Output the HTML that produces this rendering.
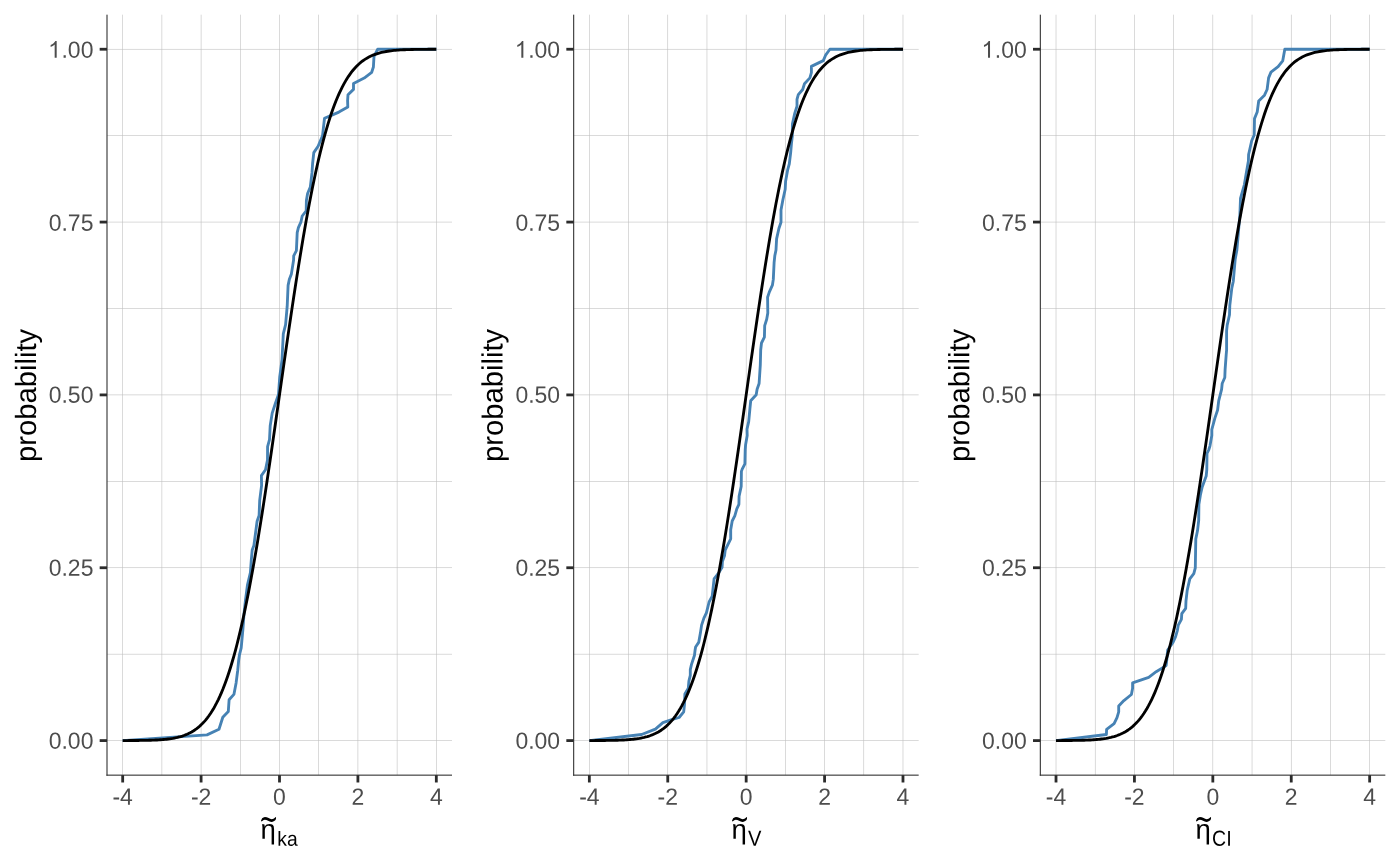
<!DOCTYPE html>
<html><head><meta charset="utf-8"><title>ECDF</title>
<style>
html,body{margin:0;padding:0;background:#fff;}
svg{display:block;will-change:transform;}
text{font-family:"Liberation Sans",sans-serif;}
</style></head><body>
<svg width="1400" height="866" viewBox="0 0 1400 866">
<rect x="0" y="0" width="1400" height="866" fill="#ffffff"/>
<g>
<rect x="107.00" y="740.298" width="345.00" height="0.57" fill="#bebebe"/>
<rect x="107.00" y="653.880" width="345.00" height="0.57" fill="#bebebe"/>
<rect x="107.00" y="567.461" width="345.00" height="0.57" fill="#bebebe"/>
<rect x="107.00" y="481.043" width="345.00" height="0.57" fill="#bebebe"/>
<rect x="107.00" y="394.625" width="345.00" height="0.57" fill="#bebebe"/>
<rect x="107.00" y="308.207" width="345.00" height="0.57" fill="#bebebe"/>
<rect x="107.00" y="221.789" width="345.00" height="0.57" fill="#bebebe"/>
<rect x="107.00" y="135.370" width="345.00" height="0.57" fill="#bebebe"/>
<rect x="107.00" y="48.952" width="345.00" height="0.57" fill="#bebebe"/>
<rect x="122.397" y="14.67" width="0.57" height="760.48" fill="#bebebe"/>
<rect x="161.601" y="14.67" width="0.57" height="760.48" fill="#bebebe"/>
<rect x="200.806" y="14.67" width="0.57" height="760.48" fill="#bebebe"/>
<rect x="240.010" y="14.67" width="0.57" height="760.48" fill="#bebebe"/>
<rect x="279.215" y="14.67" width="0.57" height="760.48" fill="#bebebe"/>
<rect x="318.420" y="14.67" width="0.57" height="760.48" fill="#bebebe"/>
<rect x="357.624" y="14.67" width="0.57" height="760.48" fill="#bebebe"/>
<rect x="396.829" y="14.67" width="0.57" height="760.48" fill="#bebebe"/>
<rect x="436.033" y="14.67" width="0.57" height="760.48" fill="#bebebe"/>
<polyline points="122.68,740.58 207.00,734.90 219.00,729.30 222.80,717.30 228.30,711.60 229.10,699.80 233.90,694.40 236.10,682.90 237.70,670.50 238.70,660.00 239.40,655.20 241.20,647.80 242.90,629.30 244.00,614.00 245.40,601.00 247.50,584.80 250.40,572.70 251.30,560.00 252.20,550.10 253.90,545.50 257.10,521.20 259.10,515.40 259.70,500.40 261.60,485.40 261.40,475.60 265.50,469.80 267.50,460.00 267.60,446.60 269.50,439.70 270.20,425.80 272.20,413.10 275.60,402.70 278.50,394.60 279.70,377.30 282.00,360.00 283.30,333.90 285.60,324.70 287.20,306.20 288.10,285.40 289.30,279.60 291.40,273.90 293.60,260.00 293.70,255.80 296.40,250.60 297.20,232.70 298.40,227.60 301.00,221.80 302.20,216.00 306.20,210.80 306.40,200.40 307.60,193.50 310.30,187.10 312.00,172.70 312.60,163.50 313.80,152.60 318.10,146.20 322.50,135.80 324.50,118.30 330.80,115.60 338.90,112.10 347.80,107.00 347.60,100.60 348.00,94.70 353.50,89.40 353.50,83.50 364.20,78.10 371.70,72.30 373.40,67.00 374.00,56.40 377.70,49.24 436.32,49.24" fill="none" stroke="#4682b4" stroke-width="2.85" stroke-linejoin="round" stroke-linecap="butt"/>
<polyline points="122.68,740.56 124.25,740.56 125.82,740.55 127.39,740.55 128.95,740.54 130.52,740.53 132.09,740.52 133.66,740.51 135.23,740.50 136.80,740.49 138.36,740.47 139.93,740.45 141.50,740.43 143.07,740.41 144.64,740.38 146.20,740.35 147.77,740.31 149.34,740.27 150.91,740.22 152.48,740.17 154.05,740.11 155.61,740.04 157.18,739.96 158.75,739.87 160.32,739.76 161.89,739.65 163.45,739.52 165.02,739.37 166.59,739.21 168.16,739.02 169.73,738.82 171.30,738.58 172.86,738.33 174.43,738.04 176.00,737.72 177.57,737.36 179.14,736.96 180.70,736.53 182.27,736.04 183.84,735.51 185.41,734.92 186.98,734.27 188.55,733.55 190.11,732.77 191.68,731.91 193.25,730.97 194.82,729.95 196.39,728.83 197.95,727.61 199.52,726.29 201.09,724.85 202.66,723.30 204.23,721.62 205.80,719.81 207.36,717.85 208.93,715.74 210.50,713.48 212.07,711.05 213.64,708.45 215.20,705.67 216.77,702.70 218.34,699.53 219.91,696.16 221.48,692.58 223.05,688.78 224.61,684.75 226.18,680.49 227.75,676.00 229.32,671.26 230.89,666.27 232.45,661.03 234.02,655.53 235.59,649.77 237.16,643.75 238.73,637.45 240.30,630.90 241.86,624.07 243.43,616.98 245.00,609.62 246.57,602.00 248.14,594.12 249.70,585.98 251.27,577.59 252.84,568.95 254.41,560.08 255.98,550.98 257.55,541.66 259.11,532.12 260.68,522.38 262.25,512.46 263.82,502.36 265.39,492.10 266.95,481.68 268.52,471.14 270.09,460.47 271.66,449.71 273.23,438.85 274.80,427.93 276.36,416.95 277.93,405.94 279.50,394.91 281.07,383.88 282.64,372.87 284.20,361.89 285.77,350.97 287.34,340.11 288.91,329.35 290.48,318.68 292.05,308.14 293.61,297.72 295.18,287.46 296.75,277.36 298.32,267.44 299.89,257.70 301.45,248.16 303.02,238.84 304.59,229.74 306.16,220.87 307.73,212.23 309.30,203.84 310.86,195.70 312.43,187.82 314.00,180.20 315.57,172.84 317.14,165.75 318.70,158.92 320.27,152.37 321.84,146.07 323.41,140.05 324.98,134.29 326.55,128.79 328.11,123.55 329.68,118.56 331.25,113.82 332.82,109.33 334.39,105.07 335.95,101.04 337.52,97.24 339.09,93.66 340.66,90.29 342.23,87.12 343.80,84.15 345.36,81.37 346.93,78.77 348.50,76.34 350.07,74.08 351.64,71.97 353.20,70.01 354.77,68.20 356.34,66.52 357.91,64.97 359.48,63.53 361.05,62.21 362.61,60.99 364.18,59.87 365.75,58.85 367.32,57.91 368.89,57.05 370.45,56.27 372.02,55.55 373.59,54.90 375.16,54.31 376.73,53.78 378.30,53.29 379.86,52.86 381.43,52.46 383.00,52.10 384.57,51.78 386.14,51.49 387.70,51.24 389.27,51.00 390.84,50.80 392.41,50.61 393.98,50.45 395.55,50.30 397.11,50.17 398.68,50.06 400.25,49.95 401.82,49.86 403.39,49.78 404.95,49.71 406.52,49.65 408.09,49.60 409.66,49.55 411.23,49.51 412.80,49.47 414.36,49.44 415.93,49.41 417.50,49.39 419.07,49.37 420.64,49.35 422.20,49.33 423.77,49.32 425.34,49.31 426.91,49.30 428.48,49.29 430.05,49.28 431.61,49.27 433.18,49.27 434.75,49.26 436.32,49.26" fill="none" stroke="#000000" stroke-width="2.85" stroke-linejoin="round" stroke-linecap="butt"/>
<rect x="106.450" y="14.67" width="1.1" height="761.030" fill="#333333"/>
<rect x="106.450" y="774.600" width="345.550" height="1.1" fill="#333333"/>
<rect x="121.282" y="775.15" width="2.8" height="7.33" fill="#2b2b2b"/>
<rect x="199.691" y="775.15" width="2.8" height="7.33" fill="#2b2b2b"/>
<rect x="278.100" y="775.15" width="2.8" height="7.33" fill="#2b2b2b"/>
<rect x="356.509" y="775.15" width="2.8" height="7.33" fill="#2b2b2b"/>
<rect x="434.918" y="775.15" width="2.8" height="7.33" fill="#2b2b2b"/>
<rect x="99.670" y="739.183" width="7.33" height="2.8" fill="#2b2b2b"/>
<rect x="99.670" y="566.346" width="7.33" height="2.8" fill="#2b2b2b"/>
<rect x="99.670" y="393.510" width="7.33" height="2.8" fill="#2b2b2b"/>
<rect x="99.670" y="220.674" width="7.33" height="2.8" fill="#2b2b2b"/>
<rect x="99.670" y="47.837" width="7.33" height="2.8" fill="#2b2b2b"/>
<text transform="translate(122.68,804.75) rotate(0.03) scale(0.978,1)" font-size="23.47" fill="#4d4d4d" text-anchor="middle">-4</text>
<text transform="translate(201.09,804.75) rotate(0.03) scale(0.978,1)" font-size="23.47" fill="#4d4d4d" text-anchor="middle">-2</text>
<text transform="translate(279.50,804.75) rotate(0.03) scale(0.978,1)" font-size="23.47" fill="#4d4d4d" text-anchor="middle">0</text>
<text transform="translate(357.91,804.75) rotate(0.03) scale(0.978,1)" font-size="23.47" fill="#4d4d4d" text-anchor="middle">2</text>
<text transform="translate(436.32,804.75) rotate(0.03) scale(0.978,1)" font-size="23.47" fill="#4d4d4d" text-anchor="middle">4</text>
<text transform="translate(93.40,748.75) rotate(0.03) scale(0.978,1)" font-size="23.47" fill="#4d4d4d" text-anchor="end">0.00</text>
<text transform="translate(93.40,575.75) rotate(0.03) scale(0.978,1)" font-size="23.47" fill="#4d4d4d" text-anchor="end">0.25</text>
<text transform="translate(93.40,402.75) rotate(0.03) scale(0.978,1)" font-size="23.47" fill="#4d4d4d" text-anchor="end">0.50</text>
<text transform="translate(93.40,230.75) rotate(0.03) scale(0.978,1)" font-size="23.47" fill="#4d4d4d" text-anchor="end">0.75</text>
<text transform="translate(93.40,57.75) rotate(0.03) scale(0.978,1)" font-size="23.47" fill="#4d4d4d" text-anchor="end">.00</text>
<path transform="translate(48.13,57.75) scale(0.011208,-0.011460)" d="M763 0H583V1147Q518 1085 412.5 1023T223 930V1104Q373 1174.5 485.5 1275T645 1470H763Z" fill="#4d4d4d"/>
<text transform="translate(35.95,395.46) rotate(-90.03)" font-size="29.25" fill="#000" text-anchor="middle">probability</text>
<text transform="translate(260.4,838.8) rotate(0.03)" font-size="27.6" fill="#000">&#951;</text>
<text transform="translate(277.3,845.7) rotate(0.03) scale(0.94,1)" font-size="20.5" fill="#000">ka</text>
<polygon transform="translate(261.0,817)" points="0.20,3.17 1.13,1.31 2.43,0.39 3.91,-0.08 5.77,0.29 7.63,1.04 9.11,1.78 10.78,2.15 12.46,1.78 13.57,0.94 14.50,0.01 15.06,0.57 14.96,2.06 14.31,3.17 13.20,4.10 11.71,4.75 10.41,4.94 8.74,4.38 7.07,3.64 5.40,2.99 3.73,2.80 2.24,3.17 1.31,3.91 0.39,4.56 0.01,3.73" fill="#000"/>
</g>
<g>
<rect x="573.67" y="740.298" width="345.00" height="0.57" fill="#bebebe"/>
<rect x="573.67" y="653.880" width="345.00" height="0.57" fill="#bebebe"/>
<rect x="573.67" y="567.461" width="345.00" height="0.57" fill="#bebebe"/>
<rect x="573.67" y="481.043" width="345.00" height="0.57" fill="#bebebe"/>
<rect x="573.67" y="394.625" width="345.00" height="0.57" fill="#bebebe"/>
<rect x="573.67" y="308.207" width="345.00" height="0.57" fill="#bebebe"/>
<rect x="573.67" y="221.789" width="345.00" height="0.57" fill="#bebebe"/>
<rect x="573.67" y="135.370" width="345.00" height="0.57" fill="#bebebe"/>
<rect x="573.67" y="48.952" width="345.00" height="0.57" fill="#bebebe"/>
<rect x="589.063" y="14.67" width="0.57" height="760.48" fill="#bebebe"/>
<rect x="628.268" y="14.67" width="0.57" height="760.48" fill="#bebebe"/>
<rect x="667.473" y="14.67" width="0.57" height="760.48" fill="#bebebe"/>
<rect x="706.677" y="14.67" width="0.57" height="760.48" fill="#bebebe"/>
<rect x="745.882" y="14.67" width="0.57" height="760.48" fill="#bebebe"/>
<rect x="785.086" y="14.67" width="0.57" height="760.48" fill="#bebebe"/>
<rect x="824.291" y="14.67" width="0.57" height="760.48" fill="#bebebe"/>
<rect x="863.495" y="14.67" width="0.57" height="760.48" fill="#bebebe"/>
<rect x="902.700" y="14.67" width="0.57" height="760.48" fill="#bebebe"/>
<polyline points="589.35,740.58 641.60,734.50 655.40,729.10 662.90,722.70 671.00,719.90 679.10,717.50 683.70,711.80 684.50,704.30 684.90,693.90 688.30,688.10 688.90,681.20 690.30,675.40 690.30,669.60 691.50,664.40 694.50,655.20 695.10,650.00 695.60,647.00 698.70,642.40 700.40,633.10 701.60,625.10 703.90,618.10 706.40,612.90 709.10,602.00 712.20,596.20 714.10,578.90 718.90,572.50 722.10,567.30 722.40,561.50 724.50,555.80 725.20,550.00 730.70,538.90 730.70,529.70 732.20,521.00 734.80,515.80 736.80,508.90 738.90,504.30 739.10,496.20 741.20,486.40 741.40,471.40 742.20,469.10 744.90,463.90 745.20,450.00 745.60,444.70 747.20,435.50 747.00,429.10 748.70,421.60 749.90,408.90 750.70,400.80 756.20,394.80 757.10,389.30 759.10,383.50 760.30,365.00 760.70,350.00 761.50,343.00 764.40,337.20 764.70,325.60 766.70,319.30 767.80,312.90 767.60,297.30 769.30,292.10 772.40,285.20 773.30,279.40 774.10,262.70 774.80,255.80 776.00,250.00 776.60,238.90 778.90,228.50 781.00,222.20 781.00,210.00 782.90,199.70 785.20,189.30 785.60,181.20 787.60,170.20 789.30,163.90 790.70,152.30 791.50,143.00 792.30,136.00 792.40,124.00 794.80,113.10 797.00,106.20 797.00,99.30 798.30,94.70 802.70,89.50 804.50,83.70 809.90,77.90 811.40,72.70 811.40,66.40 823.30,60.60 825.80,54.80 829.90,49.24 902.98,49.24" fill="none" stroke="#4682b4" stroke-width="2.85" stroke-linejoin="round" stroke-linecap="butt"/>
<polyline points="589.35,740.56 590.92,740.56 592.48,740.55 594.05,740.55 595.62,740.54 597.19,740.53 598.76,740.52 600.33,740.51 601.89,740.50 603.46,740.49 605.03,740.47 606.60,740.45 608.17,740.43 609.73,740.41 611.30,740.38 612.87,740.35 614.44,740.31 616.01,740.27 617.58,740.22 619.14,740.17 620.71,740.11 622.28,740.04 623.85,739.96 625.42,739.87 626.98,739.76 628.55,739.65 630.12,739.52 631.69,739.37 633.26,739.21 634.83,739.02 636.39,738.82 637.96,738.58 639.53,738.33 641.10,738.04 642.67,737.72 644.23,737.36 645.80,736.96 647.37,736.53 648.94,736.04 650.51,735.51 652.08,734.92 653.64,734.27 655.21,733.55 656.78,732.77 658.35,731.91 659.92,730.97 661.48,729.95 663.05,728.83 664.62,727.61 666.19,726.29 667.76,724.85 669.33,723.30 670.89,721.62 672.46,719.81 674.03,717.85 675.60,715.74 677.17,713.48 678.73,711.05 680.30,708.45 681.87,705.67 683.44,702.70 685.01,699.53 686.58,696.16 688.14,692.58 689.71,688.78 691.28,684.75 692.85,680.49 694.42,676.00 695.98,671.26 697.55,666.27 699.12,661.03 700.69,655.53 702.26,649.77 703.83,643.75 705.39,637.45 706.96,630.90 708.53,624.07 710.10,616.98 711.67,609.62 713.23,602.00 714.80,594.12 716.37,585.98 717.94,577.59 719.51,568.95 721.08,560.08 722.64,550.98 724.21,541.66 725.78,532.12 727.35,522.38 728.92,512.46 730.48,502.36 732.05,492.10 733.62,481.68 735.19,471.14 736.76,460.47 738.33,449.71 739.89,438.85 741.46,427.93 743.03,416.95 744.60,405.94 746.17,394.91 747.73,383.88 749.30,372.87 750.87,361.89 752.44,350.97 754.01,340.11 755.58,329.35 757.14,318.68 758.71,308.14 760.28,297.72 761.85,287.46 763.42,277.36 764.98,267.44 766.55,257.70 768.12,248.16 769.69,238.84 771.26,229.74 772.83,220.87 774.39,212.23 775.96,203.84 777.53,195.70 779.10,187.82 780.67,180.20 782.23,172.84 783.80,165.75 785.37,158.92 786.94,152.37 788.51,146.07 790.08,140.05 791.64,134.29 793.21,128.79 794.78,123.55 796.35,118.56 797.92,113.82 799.48,109.33 801.05,105.07 802.62,101.04 804.19,97.24 805.76,93.66 807.33,90.29 808.89,87.12 810.46,84.15 812.03,81.37 813.60,78.77 815.17,76.34 816.73,74.08 818.30,71.97 819.87,70.01 821.44,68.20 823.01,66.52 824.58,64.97 826.14,63.53 827.71,62.21 829.28,60.99 830.85,59.87 832.42,58.85 833.98,57.91 835.55,57.05 837.12,56.27 838.69,55.55 840.26,54.90 841.83,54.31 843.39,53.78 844.96,53.29 846.53,52.86 848.10,52.46 849.67,52.10 851.23,51.78 852.80,51.49 854.37,51.24 855.94,51.00 857.51,50.80 859.08,50.61 860.64,50.45 862.21,50.30 863.78,50.17 865.35,50.06 866.92,49.95 868.48,49.86 870.05,49.78 871.62,49.71 873.19,49.65 874.76,49.60 876.33,49.55 877.89,49.51 879.46,49.47 881.03,49.44 882.60,49.41 884.17,49.39 885.73,49.37 887.30,49.35 888.87,49.33 890.44,49.32 892.01,49.31 893.58,49.30 895.14,49.29 896.71,49.28 898.28,49.27 899.85,49.27 901.42,49.26 902.98,49.26" fill="none" stroke="#000000" stroke-width="2.85" stroke-linejoin="round" stroke-linecap="butt"/>
<rect x="573.117" y="14.67" width="1.1" height="761.030" fill="#333333"/>
<rect x="573.117" y="774.600" width="345.550" height="1.1" fill="#333333"/>
<rect x="587.948" y="775.15" width="2.8" height="7.33" fill="#2b2b2b"/>
<rect x="666.358" y="775.15" width="2.8" height="7.33" fill="#2b2b2b"/>
<rect x="744.767" y="775.15" width="2.8" height="7.33" fill="#2b2b2b"/>
<rect x="823.176" y="775.15" width="2.8" height="7.33" fill="#2b2b2b"/>
<rect x="901.585" y="775.15" width="2.8" height="7.33" fill="#2b2b2b"/>
<rect x="566.337" y="739.183" width="7.33" height="2.8" fill="#2b2b2b"/>
<rect x="566.337" y="566.346" width="7.33" height="2.8" fill="#2b2b2b"/>
<rect x="566.337" y="393.510" width="7.33" height="2.8" fill="#2b2b2b"/>
<rect x="566.337" y="220.674" width="7.33" height="2.8" fill="#2b2b2b"/>
<rect x="566.337" y="47.837" width="7.33" height="2.8" fill="#2b2b2b"/>
<text transform="translate(589.35,804.75) rotate(0.03) scale(0.978,1)" font-size="23.47" fill="#4d4d4d" text-anchor="middle">-4</text>
<text transform="translate(667.76,804.75) rotate(0.03) scale(0.978,1)" font-size="23.47" fill="#4d4d4d" text-anchor="middle">-2</text>
<text transform="translate(746.17,804.75) rotate(0.03) scale(0.978,1)" font-size="23.47" fill="#4d4d4d" text-anchor="middle">0</text>
<text transform="translate(824.58,804.75) rotate(0.03) scale(0.978,1)" font-size="23.47" fill="#4d4d4d" text-anchor="middle">2</text>
<text transform="translate(902.98,804.75) rotate(0.03) scale(0.978,1)" font-size="23.47" fill="#4d4d4d" text-anchor="middle">4</text>
<text transform="translate(560.07,748.75) rotate(0.03) scale(0.978,1)" font-size="23.47" fill="#4d4d4d" text-anchor="end">0.00</text>
<text transform="translate(560.07,575.75) rotate(0.03) scale(0.978,1)" font-size="23.47" fill="#4d4d4d" text-anchor="end">0.25</text>
<text transform="translate(560.07,402.75) rotate(0.03) scale(0.978,1)" font-size="23.47" fill="#4d4d4d" text-anchor="end">0.50</text>
<text transform="translate(560.07,230.75) rotate(0.03) scale(0.978,1)" font-size="23.47" fill="#4d4d4d" text-anchor="end">0.75</text>
<text transform="translate(560.07,57.75) rotate(0.03) scale(0.978,1)" font-size="23.47" fill="#4d4d4d" text-anchor="end">.00</text>
<path transform="translate(514.80,57.75) scale(0.011208,-0.011460)" d="M763 0H583V1147Q518 1085 412.5 1023T223 930V1104Q373 1174.5 485.5 1275T645 1470H763Z" fill="#4d4d4d"/>
<text transform="translate(502.62,395.46) rotate(-90.03)" font-size="29.25" fill="#000" text-anchor="middle">probability</text>
<text transform="translate(731.4,838.8) rotate(0.03)" font-size="27.6" fill="#000">&#951;</text>
<text transform="translate(747.9,845.7) rotate(0.03) scale(0.92,1)" font-size="21.9" fill="#000">V</text>
<polygon transform="translate(732.0,817)" points="0.20,3.17 1.13,1.31 2.43,0.39 3.91,-0.08 5.77,0.29 7.63,1.04 9.11,1.78 10.78,2.15 12.46,1.78 13.57,0.94 14.50,0.01 15.06,0.57 14.96,2.06 14.31,3.17 13.20,4.10 11.71,4.75 10.41,4.94 8.74,4.38 7.07,3.64 5.40,2.99 3.73,2.80 2.24,3.17 1.31,3.91 0.39,4.56 0.01,3.73" fill="#000"/>
</g>
<g>
<rect x="1040.33" y="740.298" width="345.00" height="0.57" fill="#bebebe"/>
<rect x="1040.33" y="653.880" width="345.00" height="0.57" fill="#bebebe"/>
<rect x="1040.33" y="567.461" width="345.00" height="0.57" fill="#bebebe"/>
<rect x="1040.33" y="481.043" width="345.00" height="0.57" fill="#bebebe"/>
<rect x="1040.33" y="394.625" width="345.00" height="0.57" fill="#bebebe"/>
<rect x="1040.33" y="308.207" width="345.00" height="0.57" fill="#bebebe"/>
<rect x="1040.33" y="221.789" width="345.00" height="0.57" fill="#bebebe"/>
<rect x="1040.33" y="135.370" width="345.00" height="0.57" fill="#bebebe"/>
<rect x="1040.33" y="48.952" width="345.00" height="0.57" fill="#bebebe"/>
<rect x="1055.730" y="14.67" width="0.57" height="760.48" fill="#bebebe"/>
<rect x="1094.935" y="14.67" width="0.57" height="760.48" fill="#bebebe"/>
<rect x="1134.139" y="14.67" width="0.57" height="760.48" fill="#bebebe"/>
<rect x="1173.344" y="14.67" width="0.57" height="760.48" fill="#bebebe"/>
<rect x="1212.548" y="14.67" width="0.57" height="760.48" fill="#bebebe"/>
<rect x="1251.753" y="14.67" width="0.57" height="760.48" fill="#bebebe"/>
<rect x="1290.957" y="14.67" width="0.57" height="760.48" fill="#bebebe"/>
<rect x="1330.162" y="14.67" width="0.57" height="760.48" fill="#bebebe"/>
<rect x="1369.367" y="14.67" width="0.57" height="760.48" fill="#bebebe"/>
<polyline points="1056.02,740.58 1106.40,734.50 1106.60,729.40 1114.10,723.70 1117.00,717.60 1118.70,711.80 1118.70,706.00 1123.90,700.60 1131.40,694.50 1132.60,688.30 1132.60,682.90 1148.70,677.40 1156.20,671.70 1166.10,665.60 1166.60,661.50 1167.70,650.00 1173.00,642.40 1175.60,636.60 1177.40,630.30 1178.30,625.10 1181.40,619.30 1181.80,613.70 1185.70,608.30 1186.00,600.80 1187.20,590.40 1189.80,578.90 1193.80,573.70 1195.30,567.90 1195.60,550.00 1195.80,538.90 1197.50,530.80 1198.70,520.40 1198.90,504.30 1200.40,495.00 1202.20,487.00 1206.20,476.00 1206.80,469.60 1207.00,453.50 1208.70,450.00 1210.00,445.80 1211.80,435.50 1211.80,429.70 1214.90,418.10 1217.60,410.00 1218.70,400.80 1221.60,389.30 1222.20,383.50 1224.80,377.50 1225.10,369.60 1226.20,354.60 1226.60,350.00 1226.60,330.80 1227.20,325.10 1229.50,314.70 1229.80,305.40 1231.80,288.10 1233.30,281.20 1235.20,259.20 1236.90,250.00 1238.50,230.80 1239.90,214.70 1240.50,198.50 1242.10,192.70 1244.40,184.60 1246.00,174.80 1248.40,161.00 1248.60,154.50 1249.30,151.50 1251.70,140.80 1254.20,135.00 1254.50,118.60 1257.20,112.00 1258.70,101.00 1264.50,95.20 1267.10,89.50 1268.60,77.90 1271.00,72.10 1278.10,66.70 1282.70,60.90 1284.80,49.24 1369.65,49.24" fill="none" stroke="#4682b4" stroke-width="2.85" stroke-linejoin="round" stroke-linecap="butt"/>
<polyline points="1056.02,740.56 1057.58,740.56 1059.15,740.55 1060.72,740.55 1062.29,740.54 1063.86,740.53 1065.42,740.52 1066.99,740.51 1068.56,740.50 1070.13,740.49 1071.70,740.47 1073.27,740.45 1074.83,740.43 1076.40,740.41 1077.97,740.38 1079.54,740.35 1081.11,740.31 1082.67,740.27 1084.24,740.22 1085.81,740.17 1087.38,740.11 1088.95,740.04 1090.52,739.96 1092.08,739.87 1093.65,739.76 1095.22,739.65 1096.79,739.52 1098.36,739.37 1099.92,739.21 1101.49,739.02 1103.06,738.82 1104.63,738.58 1106.20,738.33 1107.77,738.04 1109.33,737.72 1110.90,737.36 1112.47,736.96 1114.04,736.53 1115.61,736.04 1117.17,735.51 1118.74,734.92 1120.31,734.27 1121.88,733.55 1123.45,732.77 1125.02,731.91 1126.58,730.97 1128.15,729.95 1129.72,728.83 1131.29,727.61 1132.86,726.29 1134.42,724.85 1135.99,723.30 1137.56,721.62 1139.13,719.81 1140.70,717.85 1142.27,715.74 1143.83,713.48 1145.40,711.05 1146.97,708.45 1148.54,705.67 1150.11,702.70 1151.67,699.53 1153.24,696.16 1154.81,692.58 1156.38,688.78 1157.95,684.75 1159.52,680.49 1161.08,676.00 1162.65,671.26 1164.22,666.27 1165.79,661.03 1167.36,655.53 1168.92,649.77 1170.49,643.75 1172.06,637.45 1173.63,630.90 1175.20,624.07 1176.77,616.98 1178.33,609.62 1179.90,602.00 1181.47,594.12 1183.04,585.98 1184.61,577.59 1186.17,568.95 1187.74,560.08 1189.31,550.98 1190.88,541.66 1192.45,532.12 1194.02,522.38 1195.58,512.46 1197.15,502.36 1198.72,492.10 1200.29,481.68 1201.86,471.14 1203.42,460.47 1204.99,449.71 1206.56,438.85 1208.13,427.93 1209.70,416.95 1211.27,405.94 1212.83,394.91 1214.40,383.88 1215.97,372.87 1217.54,361.89 1219.11,350.97 1220.67,340.11 1222.24,329.35 1223.81,318.68 1225.38,308.14 1226.95,297.72 1228.52,287.46 1230.08,277.36 1231.65,267.44 1233.22,257.70 1234.79,248.16 1236.36,238.84 1237.92,229.74 1239.49,220.87 1241.06,212.23 1242.63,203.84 1244.20,195.70 1245.77,187.82 1247.33,180.20 1248.90,172.84 1250.47,165.75 1252.04,158.92 1253.61,152.37 1255.17,146.07 1256.74,140.05 1258.31,134.29 1259.88,128.79 1261.45,123.55 1263.02,118.56 1264.58,113.82 1266.15,109.33 1267.72,105.07 1269.29,101.04 1270.86,97.24 1272.42,93.66 1273.99,90.29 1275.56,87.12 1277.13,84.15 1278.70,81.37 1280.27,78.77 1281.83,76.34 1283.40,74.08 1284.97,71.97 1286.54,70.01 1288.11,68.20 1289.67,66.52 1291.24,64.97 1292.81,63.53 1294.38,62.21 1295.95,60.99 1297.52,59.87 1299.08,58.85 1300.65,57.91 1302.22,57.05 1303.79,56.27 1305.36,55.55 1306.92,54.90 1308.49,54.31 1310.06,53.78 1311.63,53.29 1313.20,52.86 1314.77,52.46 1316.33,52.10 1317.90,51.78 1319.47,51.49 1321.04,51.24 1322.61,51.00 1324.17,50.80 1325.74,50.61 1327.31,50.45 1328.88,50.30 1330.45,50.17 1332.02,50.06 1333.58,49.95 1335.15,49.86 1336.72,49.78 1338.29,49.71 1339.86,49.65 1341.42,49.60 1342.99,49.55 1344.56,49.51 1346.13,49.47 1347.70,49.44 1349.27,49.41 1350.83,49.39 1352.40,49.37 1353.97,49.35 1355.54,49.33 1357.11,49.32 1358.67,49.31 1360.24,49.30 1361.81,49.29 1363.38,49.28 1364.95,49.27 1366.52,49.27 1368.08,49.26 1369.65,49.26" fill="none" stroke="#000000" stroke-width="2.85" stroke-linejoin="round" stroke-linecap="butt"/>
<rect x="1039.783" y="14.67" width="1.1" height="761.030" fill="#333333"/>
<rect x="1039.783" y="774.600" width="345.550" height="1.1" fill="#333333"/>
<rect x="1054.615" y="775.15" width="2.8" height="7.33" fill="#2b2b2b"/>
<rect x="1133.024" y="775.15" width="2.8" height="7.33" fill="#2b2b2b"/>
<rect x="1211.433" y="775.15" width="2.8" height="7.33" fill="#2b2b2b"/>
<rect x="1289.842" y="775.15" width="2.8" height="7.33" fill="#2b2b2b"/>
<rect x="1368.252" y="775.15" width="2.8" height="7.33" fill="#2b2b2b"/>
<rect x="1033.003" y="739.183" width="7.33" height="2.8" fill="#2b2b2b"/>
<rect x="1033.003" y="566.346" width="7.33" height="2.8" fill="#2b2b2b"/>
<rect x="1033.003" y="393.510" width="7.33" height="2.8" fill="#2b2b2b"/>
<rect x="1033.003" y="220.674" width="7.33" height="2.8" fill="#2b2b2b"/>
<rect x="1033.003" y="47.837" width="7.33" height="2.8" fill="#2b2b2b"/>
<text transform="translate(1056.02,804.75) rotate(0.03) scale(0.978,1)" font-size="23.47" fill="#4d4d4d" text-anchor="middle">-4</text>
<text transform="translate(1134.42,804.75) rotate(0.03) scale(0.978,1)" font-size="23.47" fill="#4d4d4d" text-anchor="middle">-2</text>
<text transform="translate(1212.83,804.75) rotate(0.03) scale(0.978,1)" font-size="23.47" fill="#4d4d4d" text-anchor="middle">0</text>
<text transform="translate(1291.24,804.75) rotate(0.03) scale(0.978,1)" font-size="23.47" fill="#4d4d4d" text-anchor="middle">2</text>
<text transform="translate(1369.65,804.75) rotate(0.03) scale(0.978,1)" font-size="23.47" fill="#4d4d4d" text-anchor="middle">4</text>
<text transform="translate(1026.73,748.75) rotate(0.03) scale(0.978,1)" font-size="23.47" fill="#4d4d4d" text-anchor="end">0.00</text>
<text transform="translate(1026.73,575.75) rotate(0.03) scale(0.978,1)" font-size="23.47" fill="#4d4d4d" text-anchor="end">0.25</text>
<text transform="translate(1026.73,402.75) rotate(0.03) scale(0.978,1)" font-size="23.47" fill="#4d4d4d" text-anchor="end">0.50</text>
<text transform="translate(1026.73,230.75) rotate(0.03) scale(0.978,1)" font-size="23.47" fill="#4d4d4d" text-anchor="end">0.75</text>
<text transform="translate(1026.73,57.75) rotate(0.03) scale(0.978,1)" font-size="23.47" fill="#4d4d4d" text-anchor="end">.00</text>
<path transform="translate(981.47,57.75) scale(0.011208,-0.011460)" d="M763 0H583V1147Q518 1085 412.5 1023T223 930V1104Q373 1174.5 485.5 1275T645 1470H763Z" fill="#4d4d4d"/>
<text transform="translate(969.28,395.46) rotate(-90.03)" font-size="29.25" fill="#000" text-anchor="middle">probability</text>
<text transform="translate(1195.4,838.8) rotate(0.03)" font-size="27.6" fill="#000">&#951;</text>
<text transform="translate(1211.9,845.7) rotate(0.03) scale(0.89,1)" font-size="21.9" fill="#000">C</text>
<text transform="translate(1226.75,845.7) rotate(0.03) scale(1.0,1)" font-size="20.5" fill="#000">l</text>
<polygon transform="translate(1196.0,817)" points="0.20,3.17 1.13,1.31 2.43,0.39 3.91,-0.08 5.77,0.29 7.63,1.04 9.11,1.78 10.78,2.15 12.46,1.78 13.57,0.94 14.50,0.01 15.06,0.57 14.96,2.06 14.31,3.17 13.20,4.10 11.71,4.75 10.41,4.94 8.74,4.38 7.07,3.64 5.40,2.99 3.73,2.80 2.24,3.17 1.31,3.91 0.39,4.56 0.01,3.73" fill="#000"/>
</g>
</svg></body></html>
